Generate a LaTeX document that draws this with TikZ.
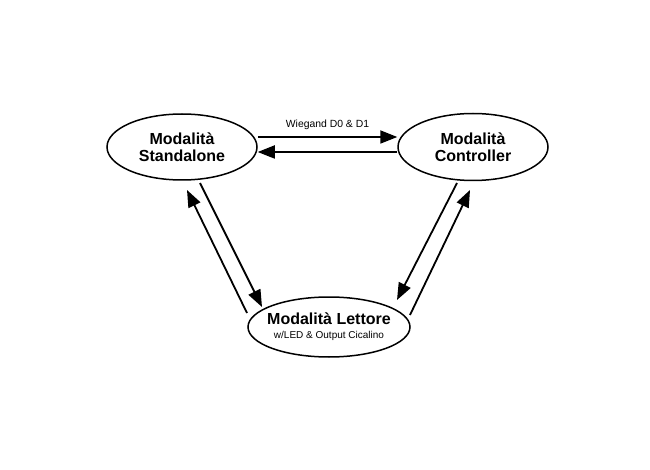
\documentclass[tikz,border=0pt]{standalone}
\usepackage{fontspec}
\setmainfont{Liberation Sans}
\usetikzlibrary{shapes.geometric,arrows.meta}

\tikzset{
  modo/.style={draw, ellipse, line width=1.5pt, inner sep=0pt, align=center,
    font=\bfseries\fontsize{16}{17}\selectfont},
  freccia/.style={line width=1.8pt, -{Triangle[length=17pt,width=13pt]}}
}

\begin{document}
\begin{tikzpicture}[x=1pt,y=-1pt]
				\useasboundingbox (0,0) rectangle (650,470);
				
				% Modes
				\node[modo, minimum width=150pt, minimum height=66pt] (stand) at (182,147) {Modalità\\Standalone};
				\node[modo, minimum width=150pt, minimum height=67pt] (ctrl) at (473,147) {Modalità\\Controller};
				\node[modo, inner xsep=-8pt, minimum width=162pt, minimum height=60pt] (lett) at (329,327)
				  {Modalità Lettore\\[-3pt]{\fontsize{10}{11}\mdseries\selectfont w/LED \& Output Cicalino}};
				
				% Wiegand link
				\draw[freccia] ([yshift=10]stand.east) -- node[above=3pt, font=\fontsize{10.4}{12}\selectfont] (wieg) {Wiegand D0 \& D1} ([yshift=10]ctrl.west);
				\draw[freccia] ([yshift=-5]ctrl.west) -- ([yshift=-5]stand.east);
				
				% Standalone <-> Lettore
				\draw[freccia] ([shift={(18,36)}]stand.center) -- ([shift={(-67,-20)}]lett.center);
				\draw[freccia] ([shift={(-82,-14)}]lett.center) -- ([shift={(5,43)}]stand.center);
				
				% Controller <-> Lettore
				\draw[freccia] ([shift={(-16,36)}]ctrl.center) -- ([shift={(68,-27)}]lett.center);
				\draw[freccia] ([shift={(81,-12)}]lett.center) -- ([shift={(-3,43)}]ctrl.center);
			\end{tikzpicture}
\end{document}
